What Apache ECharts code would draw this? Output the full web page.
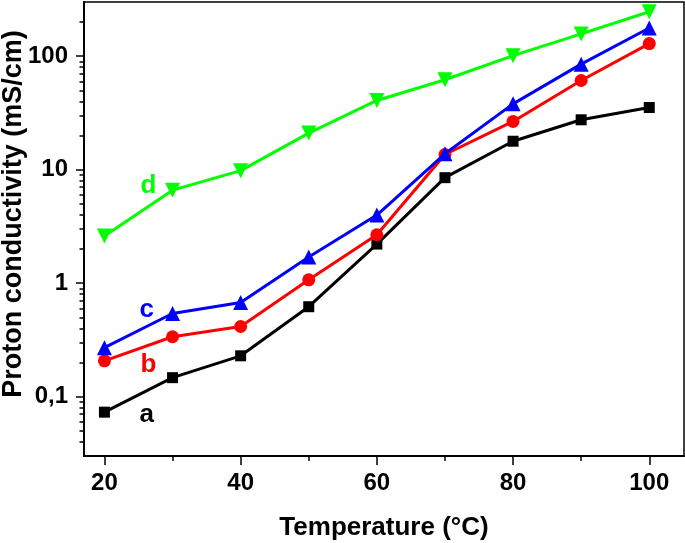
<!DOCTYPE html>
<html><head><meta charset="utf-8">
<script src="https://cdn.jsdelivr.net/npm/echarts@6/dist/echarts.min.js"></script>
<style>html,body{margin:0;padding:0;background:#fff}#c{width:685px;height:543px}</style>
</head><body><div id="c"></div>
<script>
const temperatures = [20, 30, 40, 50, 60, 70, 80, 90, 100];
const seriesA = [0.073, 0.147, 0.229, 0.62, 2.21, 8.5, 17.8, 27.5, 35.3];
const seriesB = [0.207, 0.337, 0.415, 1.07, 2.67, 13.6, 26.6, 61, 129];
const seriesC = [0.27, 0.54, 0.675, 1.70, 3.98, 13.8, 38, 85, 177];
const seriesD = [2.6, 6.6, 9.8, 21, 40.7, 62, 101, 157, 246];
const seriesNames = ['a', 'b', 'c', 'd'];
const seriesColors = ['#000000', '#ff0000', '#0000ff', '#00ff00'];
const labelPoints = [[26.2, 0.0695], [26.45, 0.191], [26.2, 0.582], [26.45, 7.15]];
const xMajorTicks = [20, 40, 60, 80, 100];
const xMinorTicks = [30, 50, 70, 90];
const yMajorTicks = [0.1, 1, 10, 100];
const yMinorTicks = [0.04, 0.05, 0.06, 0.07, 0.08, 0.09,
  0.2, 0.3, 0.4, 0.5, 0.6, 0.7, 0.8, 0.9,
  2, 3, 4, 5, 6, 7, 8, 9,
  20, 30, 40, 50, 60, 70, 80, 90, 200];

const FONT = 'Liberation Sans, Arial, sans-serif';
const chart = echarts.init(document.getElementById('c'));
const allSeries = [seriesA, seriesB, seriesC, seriesD];
const symbols = [
  {symbol: 'rect', size: 11, rotate: 0},
  {symbol: 'circle', size: 13, rotate: 0},
  {symbol: 'triangle', size: 15, rotate: 0},
  {symbol: 'triangle', size: 15, rotate: 180}
];
const lineSeries = allSeries.map((vals, i) => ({
  type: 'line', name: seriesNames[i], xAxisIndex: 0, yAxisIndex: 0,
  data: temperatures.map((t, k) => [t, vals[k]]),
  symbol: symbols[i].symbol, symbolSize: symbols[i].size, symbolRotate: symbols[i].rotate,
  showAllSymbol: true,
  lineStyle: {color: seriesColors[i], width: 3},
  itemStyle: {color: seriesColors[i]},
  animation: false, z: 2 + i
}));
const labelSeries = {
  type: 'scatter', xAxisIndex: 0, yAxisIndex: 0, symbolSize: 0, animation: false, z: 10,
  itemStyle: {opacity: 1},
  data: labelPoints.map((p, i) => ({
    value: p,
    itemStyle: {opacity: 1},
    label: {show: true, position: 'inside', formatter: seriesNames[i], color: seriesColors[i], opacity: 1,
      fontSize: 26, fontWeight: 'bold', fontFamily: FONT}
  }))
};
const axisRange = {xmin: 17, xmax: 105.1, ymin: 0.03, ymax: 300};
chart.setOption({
  animation: false,
  grid: {left: 84, right: 1, top: 2, bottom: 87, show: true, borderColor: '#000', borderWidth: 1.5},
  xAxis: [
    {type: 'value', min: axisRange.xmin, max: axisRange.xmax, position: 'bottom',
     axisLine: {show: true, lineStyle: {color: '#000', width: 2}},
     axisTick: {show: true, inside: false, length: 9, lineStyle: {color: '#000', width: 1.5}, customValues: xMajorTicks},
     axisLabel: {show: true, customValues: xMajorTicks, margin: 15, color: '#000', fontSize: 24, fontWeight: 'bold', fontFamily: FONT},
     splitLine: {show: false}},
    {type: 'value', min: axisRange.xmin, max: axisRange.xmax, position: 'bottom', offset: 0,
     axisLine: {show: false},
     axisTick: {show: true, inside: false, length: 5, lineStyle: {color: '#000', width: 1.5}, customValues: xMinorTicks},
     axisLabel: {show: false}, splitLine: {show: false}}
  ],
  yAxis: [
    {type: 'log', logBase: 10, min: axisRange.ymin, max: axisRange.ymax, position: 'left',
     axisLine: {show: true, lineStyle: {color: '#000', width: 2}},
     axisTick: {show: true, inside: false, length: 8, lineStyle: {color: '#000', width: 1.5}, customValues: yMajorTicks},
     axisLabel: {show: true, customValues: yMajorTicks, margin: 16, color: '#000', fontSize: 24, fontWeight: 'bold', fontFamily: FONT,
       formatter: v => String(v).replace('.', ',')},
     splitLine: {show: false}, minorTick: {show: false}},
    {type: 'log', logBase: 10, min: axisRange.ymin, max: axisRange.ymax, position: 'left', offset: 0,
     axisLine: {show: false},
     axisTick: {show: true, inside: false, length: 4.5, lineStyle: {color: '#000', width: 1.5}, customValues: yMinorTicks},
     axisLabel: {show: false}, splitLine: {show: false}}
  ],
  graphic: [
    {type: 'text', x: 384, y: 528, style: {text: 'Temperature (°C)', fill: '#000', font: 'bold 26px ' + FONT, textAlign: 'center', textVerticalAlign: 'middle'}},
    {type: 'text', x: 14, y: 214, rotation: Math.PI / 2, style: {text: 'Proton conductivity (mS/cm)', fill: '#000', font: 'bold 27px ' + FONT, textAlign: 'center', textVerticalAlign: 'middle'}}
  ],
  series: [...lineSeries, labelSeries]
});
</script>
</body></html>
